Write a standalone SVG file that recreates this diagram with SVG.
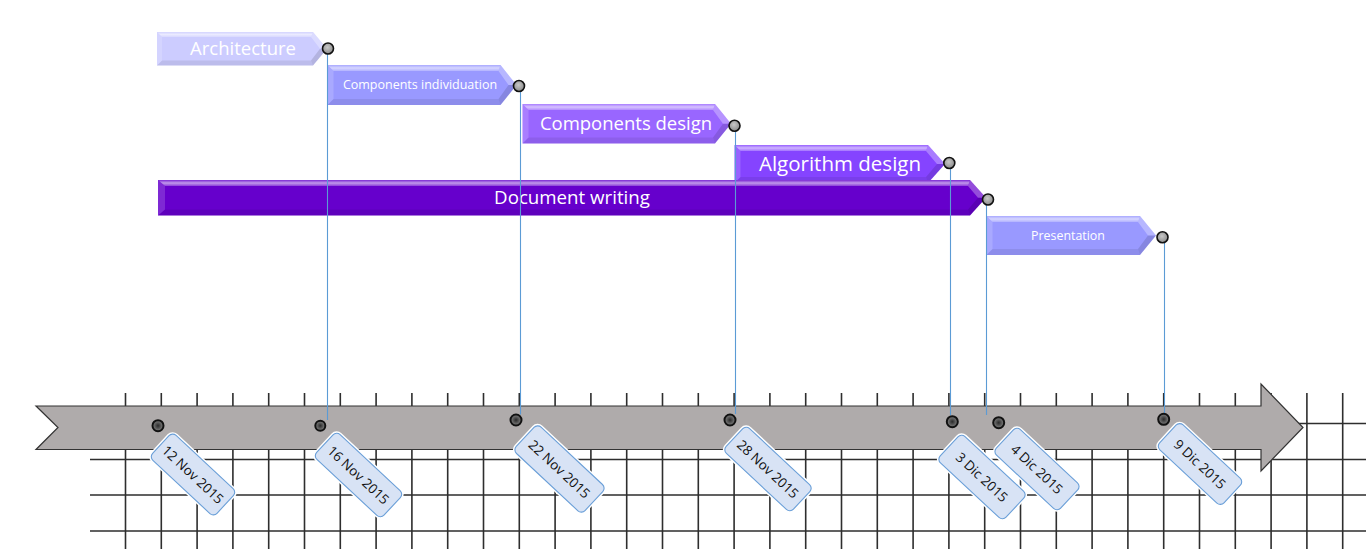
<svg xmlns="http://www.w3.org/2000/svg" width="1366" height="552" viewBox="0 0 1366 552">
<defs>
<radialGradient id="knob" cx="45%" cy="40%" r="60%">
<stop offset="0" stop-color="#c8c8c8"/><stop offset="1" stop-color="#8a8a8a"/>
</radialGradient>
<radialGradient id="dot" cx="50%" cy="50%" r="55%">
<stop offset="0" stop-color="#2a2a2a"/><stop offset="1" stop-color="#8c8c8c"/>
</radialGradient>
<linearGradient id="hl" x1="0" y1="0" x2="0" y2="1">
<stop offset="0" stop-color="#fff" stop-opacity="0.15"/><stop offset="0.5" stop-color="#fff" stop-opacity="0.6"/><stop offset="1" stop-color="#fff" stop-opacity="0.25"/>
</linearGradient>
</defs>
<style>
.grid{stroke:#2e2e2e;stroke-width:1.6;fill:none}
.axis{fill:#afabab;stroke:#333;stroke-width:1.2}
.bt{fill:url(#hl)}
.bur{fill:#fff;fill-opacity:.3}
.blr{fill:#000;fill-opacity:.12}
.bb{fill:#000;fill-opacity:.08}
.bl{fill:#fff;fill-opacity:.16}
.btxt{fill:#fff;font-family:"Open Sans","Noto Sans",sans-serif;text-anchor:middle}
.conn{stroke:#5b9bd5;stroke-width:1.1;fill:none}
.knob{fill:url(#knob);stroke:#111;stroke-width:1.6}
.dot{fill:url(#dot);stroke:#111;stroke-width:2}
.tagglow{fill:none;stroke:#fff;stroke-width:4}
.tag{fill:#d8e3f5;stroke:#6a9fd8;stroke-width:1.1}
.ttxt{fill:#111;font-family:"Open Sans","Noto Sans",sans-serif;font-size:13.5px;text-anchor:middle}
</style>

<g id="grid">
<path class="grid" d="M125.5,393V549M161.3,393V549M197.1,393V549M232.9,393V549M268.7,393V549M304.5,393V549M340.3,393V549M376.1,393V549M411.9,393V549M447.7,393V549M483.5,393V549M519.3,393V549M555.1,393V549M590.9,393V549M626.7,393V549M662.5,393V549M698.3,393V549M734.1,393V549M769.9,393V549M805.7,393V549M841.5,393V549M877.3,393V549M913.1,393V549M948.9,393V549M984.7,393V549M1020.5,393V549M1056.3,393V549M1092.1,393V549M1127.9,393V549M1163.7,393V549M1199.5,393V549M1235.3,393V549M1271.1,393V549M1306.9,393V549M1342.7,393V549"/>
<path class="grid" d="M90,423.5H1366M90,459.5H1366M90,495H1366M90,531H1366"/>
</g>

<g id="timeline">
<path class="axis" d="M36,406L1261,406L1261,384L1303,427.5L1261,471L1261,449.5L36,449.5L58,427.5Z"/>
</g>

<g id="architecture" transform="translate(157,32)">
<polygon fill="#ccccff" points="0,0 156,0 170,16.75 156,33.5 0,33.5"/>
<polygon class="bt" points="0,0 156,0 154,5 5,5"/>
<polygon class="bur" points="156,0 170,16.75 163,16.75 154,5"/>
<polygon class="blr" points="170,16.75 156,33.5 154,28.5 163,16.75"/>
<polygon class="bb" points="0,33.5 156,33.5 154,28.5 5,28.5"/>
<polygon class="bl" points="0,0 5,5 5,28.5 0,33.5"/>
<text class="btxt" x="86" y="22.8" font-size="18.5">Architecture</text>
</g>

<g id="components-individuation" transform="translate(327.5,65)">
<polygon fill="#9999ff" points="0,0 173,0 189,20 173,40 0,40"/>
<polygon class="bt" points="0,0 173,0 171,6 6,6"/>
<polygon class="bur" points="173,0 189,20 181,20 171,6"/>
<polygon class="blr" points="189,20 173,40 171,34 181,20"/>
<polygon class="bb" points="0,40 173,40 171,34 6,34"/>
<polygon class="bl" points="0,0 6,6 6,34 0,40"/>
<text class="btxt" x="92.5" y="24.3" font-size="12.5">Components individuation</text>
</g>

<g id="components-design" transform="translate(522.5,104)">
<polygon fill="#9966ff" points="0,0 192.5,0 208.5,19.75 192.5,39.5 0,39.5"/>
<polygon class="bt" points="0,0 192.5,0 190.5,6 6,6"/>
<polygon class="bur" points="192.5,0 208.5,19.75 200.5,19.75 190.5,6"/>
<polygon class="blr" points="208.5,19.75 192.5,39.5 190.5,33.5 200.5,19.75"/>
<polygon class="bb" points="0,39.5 192.5,39.5 190.5,33.5 6,33.5"/>
<polygon class="bl" points="0,0 6,6 6,33.5 0,39.5"/>
<text class="btxt" x="103.5" y="26" font-size="18.5">Components design</text>
</g>

<g id="algorithm-design" transform="translate(734.5,145)">
<polygon fill="#8544ff" points="0,0 193.5,0 210.5,19 193.5,38 0,38"/>
<polygon class="bt" points="0,0 193.5,0 191.5,6 6,6"/>
<polygon class="bur" points="193.5,0 210.5,19 202.5,19 191.5,6"/>
<polygon class="blr" points="210.5,19 193.5,38 191.5,32 202.5,19"/>
<polygon class="bb" points="0,38 193.5,38 191.5,32 6,32"/>
<polygon class="bl" points="0,0 6,6 6,32 0,38"/>
<text class="btxt" x="105.5" y="26" font-size="20.5">Algorithm design</text>
</g>

<g id="document-writing" transform="translate(158,180)">
<polygon fill="#6600cc" points="0,0 812,0 828,17.75 812,35.5 0,35.5"/>
<polygon class="bt" points="0,0 812,0 810,6 7,6"/>
<polygon class="bur" points="812,0 828,17.75 820,17.75 810,6"/>
<polygon class="blr" points="828,17.75 812,35.5 810,29.5 820,17.75"/>
<polygon class="bb" points="0,35.5 812,35.5 810,29.5 7,29.5"/>
<polygon class="bl" points="0,0 7,6 7,29.5 0,35.5"/>
<text class="btxt" x="414" y="23.5" font-size="18.7">Document writing</text>
</g>

<g id="presentation" transform="translate(986.5,216)">
<polygon fill="#9999ff" points="0,0 153.5,0 169.5,19.5 153.5,39 0,39"/>
<polygon class="bt" points="0,0 153.5,0 151.5,6 6,6"/>
<polygon class="bur" points="153.5,0 169.5,19.5 161.5,19.5 151.5,6"/>
<polygon class="blr" points="169.5,19.5 153.5,39 151.5,33 161.5,19.5"/>
<polygon class="bb" points="0,39 153.5,39 151.5,33 6,33"/>
<polygon class="bl" points="0,0 6,6 6,33 0,39"/>
<text class="btxt" x="81.5" y="24" font-size="12.4">Presentation</text>
</g>

<g id="connectors">
<path class="conn" d="M327.5,54V420"/>
<path class="conn" d="M520.5,91V414.5"/>
<path class="conn" d="M735.5,131V414"/>
<path class="conn" d="M950.5,168V415.5"/>
<path class="conn" d="M986.5,205V415"/>
<path class="conn" d="M1164.5,243V413.5"/>
</g>

<g id="bar-ends">
<circle class="knob" cx="328" cy="48.5" r="5.5"/>
<circle class="knob" cx="519" cy="86" r="5.5"/>
<circle class="knob" cx="734.5" cy="125.7" r="5.5"/>
<circle class="knob" cx="949.3" cy="163" r="5.5"/>
<circle class="knob" cx="988" cy="199.5" r="5.5"/>
<circle class="knob" cx="1162.5" cy="237.3" r="5.5"/>
</g>

<g id="date-points">
<circle class="dot" cx="158" cy="425.7" r="5.5"/>
<circle class="dot" cx="320.3" cy="425.7" r="5" stroke-width="3.4" fill="#555"/>
<circle class="dot" cx="516" cy="420" r="5.5"/>
<circle class="dot" cx="730" cy="420" r="5.5"/>
<circle class="dot" cx="952.3" cy="421.7" r="5.5"/>
<circle class="dot" cx="998.7" cy="422.7" r="5.5"/>
<circle class="dot" cx="1163.7" cy="419.3" r="5.5"/>
</g>

<g id="tag-12nov" transform="translate(193,474.5) rotate(43)">
<rect class="tagglow" x="-44" y="-17" width="88" height="34" rx="5"/>
<rect class="tag" x="-44" y="-17" width="88" height="34" rx="5"/>
<text class="ttxt" y="5">12 Nov 2015</text>
</g>
<g id="tag-16nov" transform="translate(358.5,475) rotate(43)">
<rect class="tagglow" x="-46" y="-17" width="92" height="34" rx="5"/>
<rect class="tag" x="-46" y="-17" width="92" height="34" rx="5"/>
<text class="ttxt" y="5">16 Nov 2015</text>
</g>
<g id="tag-22nov" transform="translate(559.5,469) rotate(43)">
<rect class="tagglow" x="-47" y="-18" width="94" height="36" rx="5"/>
<rect class="tag" x="-47" y="-18" width="94" height="36" rx="5"/>
<text class="ttxt" y="5">22 Nov 2015</text>
</g>
<g id="tag-28nov" transform="translate(768,469) rotate(43)">
<rect class="tagglow" x="-46" y="-17" width="92" height="34" rx="5"/>
<rect class="tag" x="-46" y="-17" width="92" height="34" rx="5"/>
<text class="ttxt" y="5">28 Nov 2015</text>
</g>
<g id="tag-3dic" transform="translate(982,477) rotate(43)">
<rect class="tagglow" x="-45" y="-18" width="90" height="36" rx="5"/>
<rect class="tag" x="-45" y="-18" width="90" height="36" rx="5"/>
<text class="ttxt" y="5">3 Dic 2015</text>
</g>
<g id="tag-4dic" transform="translate(1037,469) rotate(43)">
<rect class="tagglow" x="-44" y="-17.5" width="88" height="35" rx="5"/>
<rect class="tag" x="-44" y="-17.5" width="88" height="35" rx="5"/>
<text class="ttxt" y="5">4 Dic 2015</text>
</g>
<g id="tag-9dic" transform="translate(1200,464) rotate(43)">
<rect class="tagglow" x="-44" y="-17" width="88" height="34" rx="5"/>
<rect class="tag" x="-44" y="-17" width="88" height="34" rx="5"/>
<text class="ttxt" y="5">9 Dic 2015</text>
</g>
</svg>
